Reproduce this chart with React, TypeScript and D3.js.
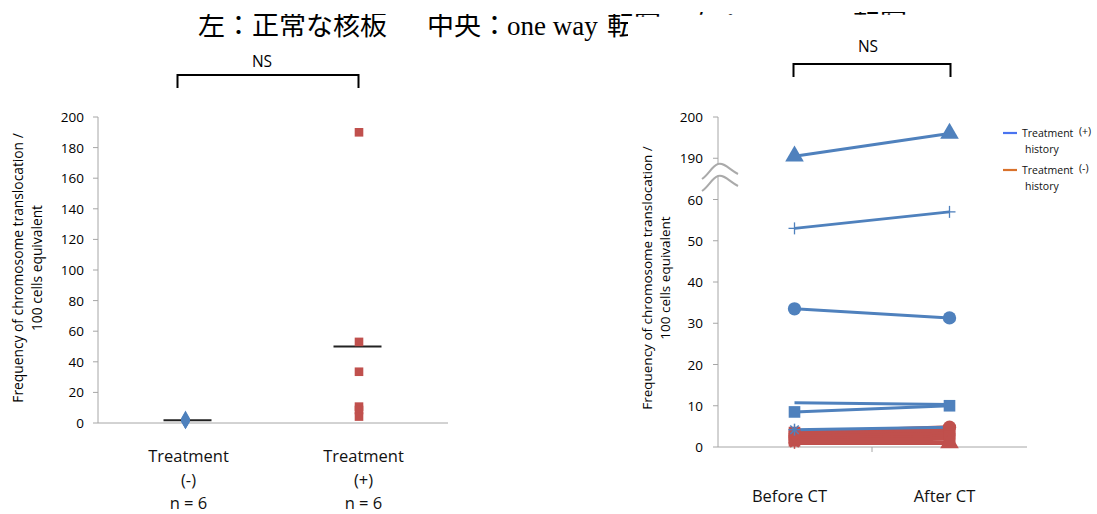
import React from "react";
import * as d3 from "d3";

// ---------- data ----------
const leftCategories = ["neg", "pos"];
const leftCatLabels = [
  ["Treatment", "(-)", "n = 6"],
  ["Treatment", "(+)", "n = 6"],
];
const leftNegValues = [3, 2.5, 2, 1.5, 1, 1.2];
const leftPosValues = [190, 53, 33.5, 10.7, 8.5, 4.2];
const leftTicks = [0, 20, 40, 60, 80, 100, 120, 140, 160, 180, 200];

const rightCategories = ["Before CT", "After CT"];
const rightTicks = [0, 10, 20, 30, 40, 50, 60, 190, 200];
const blueBefore = [190.5, 53, 33.5, 10.7, 8.5, 4.2];
const blueAfter = [196, 57, 31.3, 10.3, 10, 4.8];
const blueMarkers = ["triangle", "plus", "circle", "none", "square", "star"];
const redBefore = [3.5, 3, 2.5, 2, 1.5, 1];
const redAfter = [4.8, 4, 3.2, 2.5, 2, 1];
const redMarkersBefore = ["square", "square", "square", "square", "square", "star"];
const redMarkersAfter = ["circle", "square", "square", "square", "square", "triangle"];

const legendItems = [
  { label: "Treatment", sign: "(+)", color: "#4a74f0" },
  { label: "Treatment", sign: "(-)", color: "#d9722b" },
];

const titleLeft = "左：正常な核板";
const titleMid1 = "中央：";
const titleMid2 = "one way ";
const titleMid3 = "転写";
const titleRight1 = "右：";
const titleRight2 = "two way ";
const titleRight3 = "転写";

// ---------- style ----------
const BLUE = "#4f81bd";
const RED = "#c0504d";
const AXIS = "#a6a6a6";
const FONT = "'Open Sans', 'Noto Sans', sans-serif";
const SERIF = "'Liberation Serif', 'Noto Sans CJK JP', serif";

function Marker({ type, x, y, color }: { type: string; x: number; y: number; color: string }) {
  if (type === "none") return null;
  if (type === "plus") {
    return (
      <g stroke={color} strokeWidth={1.3}>
        <line x1={x - 6} x2={x + 6} y1={y} y2={y} />
        <line x1={x} x2={x} y1={y - 6} y2={y + 6} />
      </g>
    );
  }
  if (type === "star") {
    const r = 6;
    return (
      <g stroke={color} strokeWidth={1.5}>
        {[0, 45, 90, 135].map((a) => {
          const rad = (a * Math.PI) / 180;
          return (
            <line key={a} x1={x - r * Math.cos(rad)} x2={x + r * Math.cos(rad)} y1={y - r * Math.sin(rad)} y2={y + r * Math.sin(rad)} />
          );
        })}
      </g>
    );
  }
  const sym =
    type === "triangle" ? d3.symbolTriangle : type === "circle" ? d3.symbolCircle : type === "diamond" ? d3.symbolDiamond : d3.symbolSquare;
  const size = type === "triangle" ? 150 : type === "circle" ? 140 : 135;
  const p = d3.symbol().type(sym).size(size)();
  return <path d={p || ""} transform={`translate(${x},${y})`} fill={color} />;
}

export default function App() {
  // left chart scales
  const lx = d3.scaleBand<string>().domain(leftCategories).range([98, 448]);
  const ly = d3.scaleLinear().domain([0, 200]).range([423, 117]);
  const lCenter = (c: string) => (lx(c) as number) + lx.bandwidth() / 2;
  const negMean = d3.mean(leftNegValues) as number;
  const posMean = d3.mean(leftPosValues) as number;

  // right chart scales (broken axis)
  const rx = d3.scaleBand<string>().domain(rightCategories).range([717, 1027]);
  const ry = d3.scaleLinear().domain([0, 60, 190, 200]).range([447, 199.5, 158.25, 117]);
  const rCenter = (c: string) => (rx(c) as number) + rx.bandwidth() / 2;
  const xb = rCenter("Before CT");
  const xa = rCenter("After CT");

  const diamond = d3.symbol().type(d3.symbolDiamond).size(70)() || "";
  const sq = 8.6;

  return (
    <svg width={1097} height={514} style={{ position: "absolute", left: 0, top: 0, background: "#fff" }} fontFamily={FONT}>
      <defs>
        <clipPath id="titleClipA">
          <rect x={0} y={14} width={628} height={50} />
          <rect x={0} y={14} width={1097} height={2.8} />
        </clipPath>
        <clipPath id="titleClipB">
          <rect x={628} y={12} width={469} height={2.8} />
        </clipPath>
      </defs>
      <rect width={1097} height={514} fill="#fff" />

      {/* title (partly hidden) */}
      <g clipPath="url(#titleClipA)" fontFamily={SERIF} fontSize={27} fill="#000">
        <text x={198} y={35}>{titleLeft}</text>
        <text x={427} y={35}>{titleMid1}</text>
        <text x={507} y={35}>{titleMid2}</text>
        <text x={607} y={35}>{titleMid3}</text>
      </g>
      <g clipPath="url(#titleClipB)" fontFamily={SERIF} fontSize={27} fill="#000">
        <text x={690} y={33}>{titleRight1}</text>
        <text x={752} y={33}>{titleRight2}</text>
        <text x={853} y={33}>{titleRight3}</text>
      </g>

      {/* ================= LEFT CHART ================= */}
      <g>
        {/* NS bracket */}
        <path d={`M${lCenter("neg") - 8},88 V75 H${lCenter("pos") - 2} V88`} fill="none" stroke="#000" strokeWidth={2} />
        <text x={262} y={67} textAnchor="middle" fontSize={15.5}>NS</text>

        {/* axes */}
        <line x1={98} x2={98} y1={ly(200)} y2={ly(0)} stroke={AXIS} strokeWidth={1} />
        <line x1={98} x2={448} y1={ly(0)} y2={ly(0)} stroke={AXIS} strokeWidth={1} />
        {leftTicks.map((t) => (
          <g key={t}>
            <line x1={93} x2={98} y1={ly(t)} y2={ly(t)} stroke={AXIS} />
            <text x={84} y={ly(t) + 5} textAnchor="end" fontSize={13.5} fill="#000">{t}</text>
          </g>
        ))}
        <text transform={`translate(23,${268}) rotate(-90)`} textAnchor="middle" fontSize={13.8}>
          <tspan x={0} dy={0}>Frequency of chromosome translocation /</tspan>
          <tspan x={0} dy={18.5}>100 cells equivalent</tspan>
        </text>

        {/* mean lines */}
        <line x1={lCenter("neg") - 22} x2={lCenter("neg") + 26} y1={ly(negMean)} y2={ly(negMean)} stroke="#222" strokeWidth={2} />
        <line x1={lCenter("pos") - 27} x2={lCenter("pos") + 21} y1={ly(posMean)} y2={ly(posMean)} stroke="#222" strokeWidth={2} />

        {/* points */}
        {leftNegValues.map((v, i) => (
          <path key={`n${i}`} d={diamond} transform={`translate(${lCenter("neg")},${ly(v)})`} fill={BLUE} />
        ))}
        {leftPosValues.map((v, i) => (
          <rect key={`p${i}`} x={lCenter("pos") - 1.5 - sq / 2} y={ly(v) - sq / 2} width={sq} height={sq} fill={RED} />
        ))}

        {/* category labels */}
        {leftCategories.map((c, i) => (
          <text key={c} x={lCenter(c) + 3} textAnchor="middle" fontSize={16.5} fill="#111">
            {leftCatLabels[i].map((s, j) => (
              <tspan key={j} x={lCenter(c) + 3} y={462 + j * 23.5}>{s}</tspan>
            ))}
          </text>
        ))}
      </g>

      {/* ================= RIGHT CHART ================= */}
      <g>
        <path d={`M${xb - 1},77 V64 H${xa + 1} V77`} fill="none" stroke="#000" strokeWidth={2} />
        <text x={868} y={52} textAnchor="middle" fontSize={15.5}>NS</text>

        <line x1={718} x2={718} y1={ry(200)} y2={ry(0)} stroke={AXIS} strokeWidth={1} />
        <line x1={718} x2={1027} y1={ry(0)} y2={ry(0)} stroke={AXIS} strokeWidth={1} />
        <line x1={872} x2={872} y1={ry(0)} y2={ry(0) + 5} stroke={AXIS} />
        {rightTicks.map((t) => (
          <g key={t}>
            <line x1={713} x2={718} y1={ry(t)} y2={ry(t)} stroke={AXIS} />
            <text x={703} y={ry(t) + 5} textAnchor="end" fontSize={13.5} fill="#000">{t}</text>
          </g>
        ))}

        {/* break symbol */}
        <path d="M702,179 C709,174 712,166 718,164 C724,162 730,170 738,174 L738,186 C730,182 724,174 718,176 C712,178 709,186 702,191 Z" fill="#fff" />
        <path d="M702,179 C709,174 712,166 718,164 C724,162 730,170 738,174" fill="none" stroke="#aaa" strokeWidth={2} />
        <path d="M702,191 C709,186 712,178 718,176 C724,174 730,182 738,186" fill="none" stroke="#aaa" strokeWidth={2} />

        <text transform={`translate(652,${278}) rotate(-90)`} textAnchor="middle" fontSize={13.5}>
          <tspan x={0} dy={0}>Frequency of chromosome translocation /</tspan>
          <tspan x={0} dy={17.5}>100 cells equivalent</tspan>
        </text>

        {/* red lines (treatment -) */}
        {redBefore.map((v, i) => (
          <line key={`rl${i}`} x1={xb} x2={xa} y1={ry(v)} y2={ry(redAfter[i])} stroke={RED} strokeWidth={4} />
        ))}
        {/* blue lines (treatment +) */}
        {blueBefore.map((v, i) => (
          <line key={`bl${i}`} x1={xb} x2={xa} y1={ry(v)} y2={ry(blueAfter[i])} stroke={BLUE} strokeWidth={3} />
        ))}
        {redBefore.map((v, i) => (
          <g key={`rm${i}`}>
            <Marker type={redMarkersBefore[i]} x={xb} y={ry(v)} color={RED} />
            <Marker type={redMarkersAfter[i]} x={xa} y={ry(redAfter[i])} color={RED} />
          </g>
        ))}
        {blueBefore.map((v, i) => (
          <g key={`bm${i}`}>
            <Marker type={blueMarkers[i]} x={xb} y={ry(v)} color={BLUE} />
            <Marker type={blueMarkers[i] === "star" ? "none" : blueMarkers[i]} x={xa} y={ry(blueAfter[i])} color={BLUE} />
          </g>
        ))}

        {rightCategories.map((c) => (
          <text key={c} x={rCenter(c) - 5} y={502} textAnchor="middle" fontSize={16.5} fill="#111">{c}</text>
        ))}

        {/* legend */}
        {legendItems.map((it, i) => (
          <g key={i} transform={`translate(0,${i * 37})`} fontSize={10.5} fill="#111">
            <line x1={1003} x2={1017} y1={133} y2={133} stroke={it.color} strokeWidth={2.2} />
            <text x={1022} y={137}>{it.label}</text>
            <text x={1079} y={135}>{it.sign}</text>
            <text x={1025} y={153}>history</text>
          </g>
        ))}
      </g>
    </svg>
  );
}
